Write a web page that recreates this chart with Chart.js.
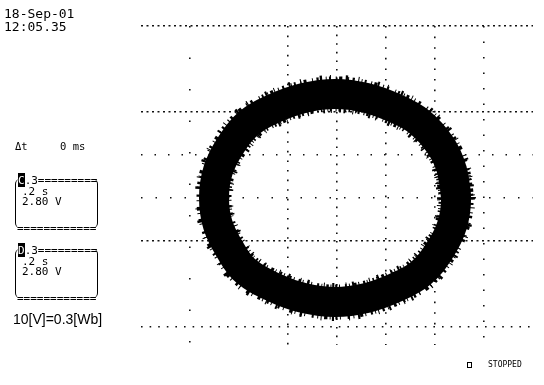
<!DOCTYPE html>
<html>
<head>
<meta charset="utf-8">
<script src="https://cdn.jsdelivr.net/npm/chart.js@4/dist/chart.umd.min.js"></script>
<style>
  html, body { margin: 0; padding: 0; background: #fff; }
  #wrap { position: relative; width: 544px; height: 385px; overflow: hidden; background: #fff; }
  canvas { position: absolute; left: 0; top: 0; }
  .t { position: absolute; white-space: pre; color: #000; font-family: "DejaVu Sans Mono", monospace; }
  .f13 { font-size: 13px; line-height: 13px; }
  .f11 { font-size: 11px; line-height: 11px; }
  .f10 { font-size: 10.5px; line-height: 10.5px; }
  .f8 { font-size: 8px; line-height: 8px; }
  .inv { background: #000; color: #fff; padding: 1px 0 0 0; }
  .br { position: absolute; border-left: 1.5px solid #000; border-right: 1.5px solid #000; border-radius: 5px; }
  .note { position: absolute; white-space: pre; font-family: "Liberation Sans", Arial, sans-serif; font-size: 14px; line-height: 14px; color: #000; }
  .sq { position: absolute; border: 1.5px solid #000; }
</style>
</head>
<body>
<div id="wrap">
  <canvas id="c" width="544" height="385"></canvas>

  <div class="t f13" style="left:4px; top:6.5px;">18-Sep-01</div>
  <div class="t f13" style="left:4px; top:19.5px;">12:05.35</div>

  <div class="t f10" style="left:15px; top:141px;">Δt</div>
  <div class="t f10" style="left:60px; top:141px;">0 ms</div>

  <div class="br" style="left:15px; top:179px; width:81px; height:49px;"></div>
  <div class="t f11" style="left:18px; top:175px;"><span class="inv">C</span>.3=========</div>
  <div class="t f11" style="left:22px; top:185.7px;">.2 s</div>
  <div class="t f11" style="left:22px; top:195.7px;">2.80 V</div>
  <div class="t f11" style="left:17px; top:222.7px;">============</div>

  <div class="br" style="left:15px; top:249px; width:81px; height:49px;"></div>
  <div class="t f11" style="left:18px; top:245px;"><span class="inv">D</span>.3=========</div>
  <div class="t f11" style="left:22px; top:255.7px;">.2 s</div>
  <div class="t f11" style="left:22px; top:265.7px;">2.80 V</div>
  <div class="t f11" style="left:17px; top:292.7px;">============</div>

  <div class="note" style="left:13px; top:311.5px;">10[V]=0.3[Wb]</div>

  <div class="sq" style="left:467px; top:362px; width:3px; height:4px;"></div>
  <div class="t f8" style="left:488px; top:361px;">STOPPED</div>
</div>
<script>
// Graticule divisions (X: channel C, Y: channel D)
const xTicks = [-4, -3, -2, -1, 0, 1, 2, 3, 4];
const yTicks = [4, 3, 2, 1, 0, -1, -2, -3];

// XY trace (B–H loop), in divisions, going round counter-clockwise from the right
const ringX = [2.43, 2.35, 2.12, 1.68, 1.18, 0.59, -0.04, -0.67, -1.27, -1.78, -2.18, -2.43,
               -2.51, -2.43, -2.18, -1.86, -1.27, -0.67, -0.04, 0.59, 1.18, 1.70, 2.10, 2.35];
const ringY = [0.00, 0.63, 1.21, 1.77, 2.09, 2.33, 2.42, 2.33, 2.09, 1.76, 1.21, 0.63,
               0.00, -0.63, -1.21, -1.70, -2.09, -2.33, -2.42, -2.33, -2.09, -1.76, -1.21, -0.63];

// closed trace: wrap around past the first two samples so the join is smooth
const trace = ringX.map((x, i) => ({ x: x, y: ringY[i] }));
trace.push(trace[0], trace[1]);

// dotted graticule styling per division line
const xDash = { '-4': null, '-3': [1.5, 30], '-2': null, '-1': [1.6, 8], '0': [1.6, 7], '1': [1.6, 9], '2': [1.6, 9], '3': [1.5, 14], '4': null };
const yDash = { '4': [2, 3.5], '3': null, '2': [2, 3.5], '1': [1.5, 12], '0': [1.5, 13], '-1': [2, 3.5], '-2': null, '-3': [1.6, 7] };

function gridColor(map) {
  return ctx => (ctx.tick && map[String(ctx.tick.value)]) ? '#111' : 'rgba(0,0,0,0)';
}
function gridDash(map) {
  return ctx => (ctx.tick && map[String(ctx.tick.value)]) || [];
}

const traceStyle = {
  showLine: true,
  borderColor: '#000',
  tension: 0.4,
  pointRadius: 0,
  fill: false
};

new Chart(document.getElementById('c'), {
  type: 'scatter',
  data: {
    datasets: [
      // solid body of the persistence trace
      Object.assign({ data: trace, borderWidth: 30, borderJoinStyle: 'round', borderCapStyle: 'round' }, traceStyle),
      // ragged fringe of the same trace (sampling scatter at the band edges)
      Object.assign({ data: trace, borderWidth: 35, borderCapStyle: 'butt',
                      borderDash: [2, 3, 1, 5, 3, 2, 1, 4, 2, 2, 1, 6] }, traceStyle),
      Object.assign({ data: trace, borderWidth: 38, borderCapStyle: 'butt',
                      borderDash: [1, 9, 2, 13, 1, 7, 2, 17] }, traceStyle)
    ]
  },
  options: {
    responsive: false,
    animation: false,
    events: [],
    layout: { padding: { left: 141, right: 11, top: 26, bottom: 40 } },
    plugins: { legend: { display: false }, tooltip: { enabled: false } },
    scales: {
      x: {
        type: 'linear', min: -4, max: 4,
        afterBuildTicks: s => { s.ticks = xTicks.map(v => ({ value: v })); },
        ticks: { display: false },
        grid: { drawTicks: false, lineWidth: 1.6, color: gridColor(xDash) },
        border: { display: false, dash: gridDash(xDash) }
      },
      y: {
        type: 'linear', min: -3.42, max: 4,
        afterBuildTicks: s => { s.ticks = yTicks.map(v => ({ value: v })); },
        ticks: { display: false },
        grid: { drawTicks: false, lineWidth: 1.6, color: gridColor(yDash) },
        border: { display: false, dash: gridDash(yDash) }
      }
    }
  }
});
</script>
</body>
</html>
